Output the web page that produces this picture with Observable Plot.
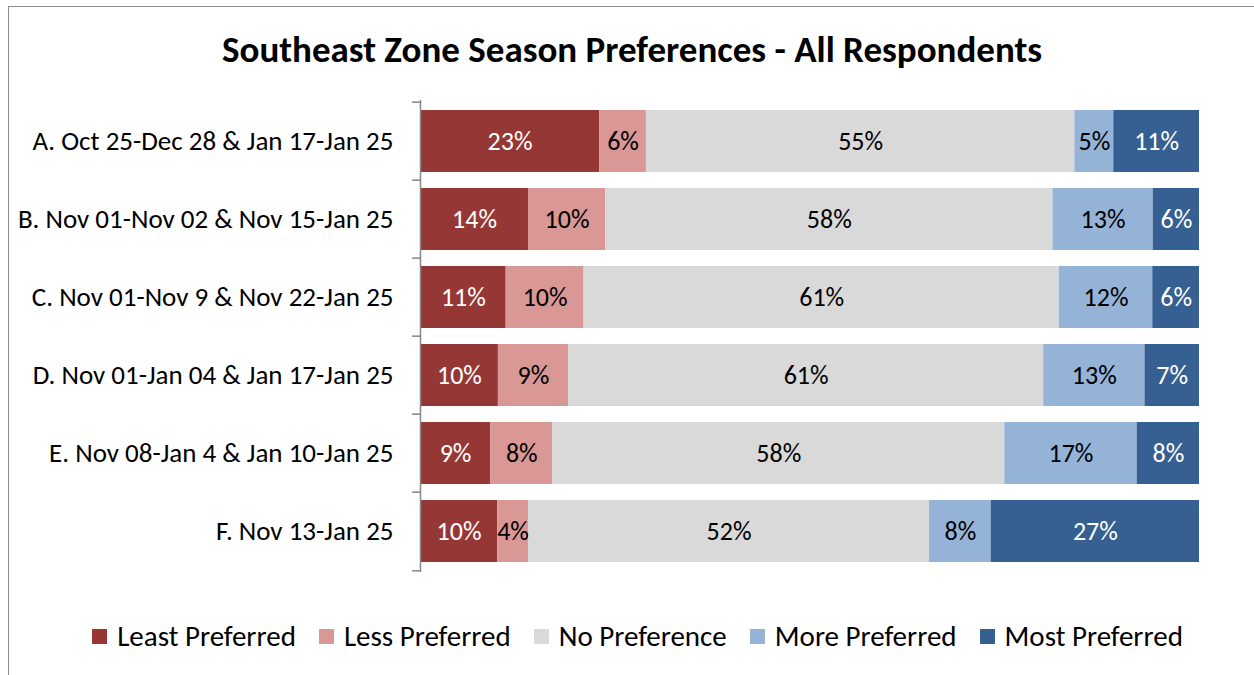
<!DOCTYPE html>
<html>
<head>
<meta charset="utf-8">
<script src="https://cdn.jsdelivr.net/npm/d3@7"></script>
<script src="https://cdn.jsdelivr.net/npm/@observablehq/plot@0.6"></script>
<style>
  body { margin: 0; background: #fff; font-family: Carlito, Lato, "Noto Sans", sans-serif; }
  #wrap { position: relative; width: 1254px; height: 675px; overflow: hidden; }
  #frame { position: absolute; left: 8px; top: 6px; width: 1300px; height: 720px; border: 1px solid #8c8c8c; box-sizing: border-box; }
  #title { position: absolute; left: 0; top: 0; width: 1264px; height: 100px; line-height: 100px; text-align: center; font-weight: bold; font-size: 37px; color: #000; }
  #chart { position: absolute; left: 0; top: 90px; }
  #legend { position: absolute; left: 0; top: 600px; width: 1275px; height: 72px; display: flex; justify-content: center; align-items: center; gap: 23px; font-size: 29px; color: #000; }
  .item { display: flex; align-items: center; gap: 10px; }
  .sw { width: 15px; height: 15px; display: inline-block; }
</style>
</head>
<body>
<div id="wrap">
  <div id="frame"></div>
  <div id="title">Southeast Zone Season Preferences - All Respondents</div>
  <div id="chart"></div>
  <div id="legend"></div>
</div>
<script>
const categories = [
  "A. Oct 25-Dec 28 & Jan 17-Jan 25",
  "B. Nov 01-Nov 02 & Nov 15-Jan 25",
  "C. Nov 01-Nov 9 & Nov 22-Jan 25",
  "D. Nov 01-Jan 04 & Jan 17-Jan 25",
  "E. Nov 08-Jan 4 & Jan 10-Jan 25",
  "F. Nov 13-Jan 25"
];
const series = ["Least Preferred", "Less Preferred", "No Preference", "More Preferred", "Most Preferred"];
const leastPreferred = [23, 14, 11, 10, 9, 10];
const lessPreferred  = [6, 10, 10, 9, 8, 4];
const noPreference   = [55, 58, 61, 61, 58, 52];
const morePreferred  = [5, 13, 12, 13, 17, 8];
const mostPreferred  = [11, 6, 6, 7, 8, 27];
const colors = ["#953735", "#D99795", "#D9D9D9", "#95B3D7", "#376092"];
const darkSeries = ["Least Preferred", "Most Preferred"];

const seriesValues = [leastPreferred, lessPreferred, noPreference, morePreferred, mostPreferred];
const data = [];
categories.forEach((c, i) => {
  series.forEach((s, j) => {
    data.push({category: c, series: s, value: seriesValues[j][i]});
  });
});

const step = 472 / 6;
const font = "Carlito, Lato, 'Noto Sans', sans-serif";

const chart = Plot.plot({
  width: 1254,
  height: 510,
  marginTop: 10,
  marginBottom: 28,
  marginLeft: 420,
  marginRight: 55,
  style: {fontFamily: font, background: "transparent"},
  x: {axis: null, domain: [0, 1]},
  y: {domain: categories, paddingInner: 0.21, paddingOuter: 0.105, label: null},
  color: {domain: series, range: colors},
  marks: [
    Plot.barX(data, Plot.stackX({offset: "normalize", x: "value", y: "category", fill: "series", order: series})),
    Plot.text(data, Plot.stackX({offset: "normalize", x: "value", y: "category", z: "series", order: series,
      text: d => darkSeries.includes(d.series) ? d.value + "%" : "", fill: "white", fontSize: 26})),
    Plot.text(data, Plot.stackX({offset: "normalize", x: "value", y: "category", z: "series", order: series,
      text: d => darkSeries.includes(d.series) ? "" : d.value + "%", fill: "black", fontSize: 26})),
    Plot.axisY({tickSize: 0, tickPadding: 27, fontSize: 27, fill: "black", label: null}),
    Plot.axisY({tickSize: 8, text: null, dy: -step / 2, stroke: "#868686", strokeWidth: 1.5, label: null}),
    Plot.axisY({ticks: [categories[categories.length - 1]], tickSize: 8, text: null, dy: step / 2, stroke: "#868686", strokeWidth: 1.5, label: null}),
    Plot.ruleX([0], {stroke: "#868686", strokeWidth: 1.5})
  ]
});
document.getElementById("chart").appendChild(chart);

const legend = document.getElementById("legend");
series.forEach((s, i) => {
  const item = document.createElement("div");
  item.className = "item";
  const sw = document.createElement("span");
  sw.className = "sw";
  sw.style.background = colors[i];
  const t = document.createElement("span");
  t.textContent = s;
  item.appendChild(sw);
  item.appendChild(t);
  legend.appendChild(item);
});
</script>
</body>
</html>
